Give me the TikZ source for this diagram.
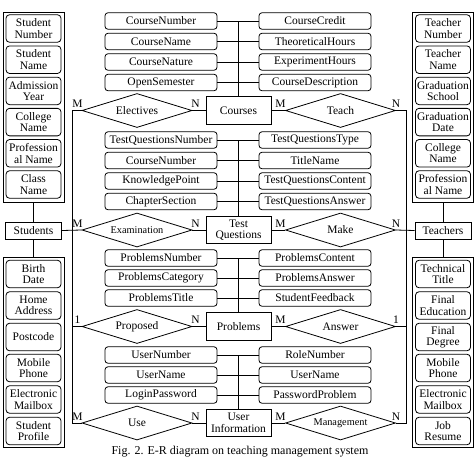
\documentclass[tikz,border=0pt]{standalone}
\usepackage{fontspec}
\setmainfont{Liberation Serif}
\usetikzlibrary{shapes.geometric}
\begin{document}
\begin{tikzpicture}[x=1pt,y=-1pt,line width=0.8pt,
  every node/.style={font=\fontsize{11.5}{11.5}\selectfont, inner sep=0pt},
  attr/.style={draw, rounded corners=3pt, minimum width=112pt, minimum height=16.5pt},
  sidebox/.style={draw, rounded corners=3.5pt, minimum width=55pt, minimum height=27.5pt, align=center},
  outerbox/.style={draw, minimum width=61pt, minimum height=190pt},
  ent/.style={draw, minimum width=65pt, minimum height=27.5pt, align=center},
  smallent/.style={draw, minimum width=56pt, minimum height=17pt},
  rel/.style={draw, shape=diamond, aspect=3.2, minimum width=110pt, minimum height=34pt},
  relsmall/.style={rel, font=\fontsize{10.3}{10.3}\selectfont},
  card/.style={font=\fontsize{11.5}{11.5}\selectfont}]
\useasboundingbox (0,0) rectangle (474,459);

% ---------- left column ----------
\node[outerbox] (lo1) at (33.5,107) {};
\node[sidebox] (s1) at (33.5,28.5) {Student\\Number};
\node[sidebox] (s2) at (33.5,59.7) {Student\\Name};
\node[sidebox] (s3) at (33.5,90.9) {Admission\\Year};
\node[sidebox] (s4) at (33.5,122.1) {College\\Name};
\node[sidebox] (s5) at (33.5,153.3) {Profession\\al Name};
\node[sidebox] (s6) at (33.5,184.5) {Class\\Name};
\node[smallent] (stu) at (33.5,230.5) {Students};
\node[outerbox] (lo2) at (33.5,352) {};
\node[sidebox] (s7) at (33.5,274) {Birth\\Date};
\node[sidebox] (s8) at (33.5,305.5) {Home\\Address};
\node[sidebox] (s9) at (33.5,337) {Postcode};
\node[sidebox] (s10) at (33.5,368) {Mobile\\Phone};
\node[sidebox] (s11) at (33.5,399.5) {Electronic\\Mailbox};
\node[sidebox] (s12) at (33.5,431) {Student\\Profile};
\draw (lo1.south) -- (stu.north);
\draw (stu.south) -- (lo2.north);

% ---------- right column ----------
\node[outerbox] (ro1) at (443,107) {};
\node[sidebox] (t1) at (443,28.5) {Teacher\\Number};
\node[sidebox] (t2) at (443,59.7) {Teacher\\Name};
\node[sidebox] (t3) at (443,90.9) {Graduation\\School};
\node[sidebox] (t4) at (443,122.1) {Graduation\\Date};
\node[sidebox] (t5) at (443,153.3) {College\\Name};
\node[sidebox] (t6) at (443,184.5) {Profession\\al Name};
\node[smallent] (tea) at (443,230.5) {Teachers};
\node[outerbox] (ro2) at (443,352) {};
\node[sidebox] (t7) at (443,274) {Technical\\Title};
\node[sidebox] (t8) at (443,305.5) {Final\\Education};
\node[sidebox] (t9) at (443,337) {Final\\Degree};
\node[sidebox] (t10) at (443,368) {Mobile\\Phone};
\node[sidebox] (t11) at (443,399.5) {Electronic\\Mailbox};
\node[sidebox] (t12) at (443,431) {Job\\Resume};
\draw (ro1.south) -- (tea.north);
\draw (tea.south) -- (ro2.north);

% ---------- entities ----------
\node[ent] (co) at (238.5,110.5) {Courses};
\node[ent] (tq) at (238.5,230) {Test\\Questions};
\node[ent] (pb) at (238.5,326.5) {Problems};
\node[ent] (ui) at (238.5,423) {User\\Information};

% ---------- attributes ----------
\node[attr] (a1) at (161,21) {CourseNumber};
\node[attr] (a2) at (161,41.5) {CourseName};
\node[attr] (a3) at (161,62) {CourseNature};
\node[attr] (a4) at (161,82.5) {OpenSemester};
\node[attr] (b1) at (315,21) {CourseCredit};
\node[attr] (b2) at (315,41.5) {TheoreticalHours};
\node[attr] (b3) at (315,62) {ExperimentHours};
\node[attr] (b4) at (315,82.5) {CourseDescription};

\node[attr] (a5) at (161,140) {TestQuestionsNumber};
\node[attr] (a6) at (161,160.5) {CourseNumber};
\node[attr] (a7) at (161,181) {KnowledgePoint};
\node[attr] (a8) at (161,201.5) {ChapterSection};
\node[attr] (b5) at (315,140) {TestQuestionsType};
\node[attr] (b6) at (315,160.5) {TitleName};
\node[attr] (b7) at (315,181) {TestQuestionsContent};
\node[attr] (b8) at (315,201.5) {TestQuestionsAnswer};

\node[attr] (a9) at (161,258) {ProblemsNumber};
\node[attr] (a10) at (161,278) {ProblemsCategory};
\node[attr] (a11) at (161,298) {ProblemsTitle};
\node[attr] (b9) at (315,258) {ProblemsContent};
\node[attr] (b10) at (315,278) {ProblemsAnswer};
\node[attr] (b11) at (315,298) {StudentFeedback};

\node[attr] (a12) at (161,355) {UserNumber};
\node[attr] (a13) at (161,375) {UserName};
\node[attr] (a14) at (161,395) {LoginPassword};
\node[attr] (b12) at (315,355) {RoleNumber};
\node[attr] (b13) at (315,375) {UserName};
\node[attr] (b14) at (315,395) {PasswordProblem};

\foreach \l/\r in {a1/b1,a2/b2,a3/b3,a4/b4,a5/b5,a6/b6,a7/b7,a8/b8,a9/b9,a10/b10,a11/b11,a12/b12,a13/b13,a14/b14}
  \draw (\l.east) -- (\r.west);
\draw (co |- a1) -- (co.north);
\draw (tq |- a5) -- (tq.north);
\draw (pb |- a9) -- (pb.north);
\draw (ui |- a12) -- (ui.north);

% ---------- relationships ----------
\node[rel] (el) at (137,110.5) {Electives};
\node[rel] (tc) at (340.5,110.5) {Teach};
\node[relsmall] (ex) at (137,230) {Examination};
\node[rel] (mk) at (340.5,230) {Make};
\node[rel] (pp) at (137,326.5) {Proposed};
\node[rel] (an) at (340.5,326.5) {Answer};
\node[rel] (us) at (137,423) {Use};
\node[relsmall] (mg) at (340.5,423) {Management};

\draw (el.east) -- (co.west);
\draw (co.east) -- (tc.west);
\draw (ex.east) -- (tq.west);
\draw (tq.east) -- (mk.west);
\draw (pp.east) -- (pb.west);
\draw (pb.east) -- (an.west);
\draw (us.east) -- (ui.west);
\draw (ui.east) -- (mg.west);

% spines
\coordinate (lsT) at (72,110.5);
\coordinate (lsB) at (72,423);
\coordinate (rsT) at (406,110.5);
\coordinate (rsB) at (406,423);
\draw (el.west) -- (lsT) -- (lsB) -- (us.west);
\draw (stu.east) -- (ex.west);
\draw (pp.west) -- (pp.west -| lsT);
\draw (tc.east) -- (rsT) -- (rsB) -- (mg.east);
\draw (tea.west) -- (mk.east);
\draw (an.east) -- (an.east -| rsT);

% cardinalities
\node[card] (c1) at (77.5,104) {M};
\node[card] (c2) at (195.5,104) {N};
\node[card] (c3) at (280.5,104) {M};
\node[card] (c4) at (396,104) {N};
\node[card] (c5) at (77.5,223.5) {M};
\node[card] (c6) at (195.5,223.5) {N};
\node[card] (c7) at (280.5,223.5) {M};
\node[card] (c8) at (396,223.5) {N};
\node[card] (c9) at (77.5,320) {1};
\node[card] (c10) at (195.5,320) {N};
\node[card] (c11) at (280.5,320) {M};
\node[card] (c12) at (396,320) {1};
\node[card] (c13) at (77.5,416.5) {M};
\node[card] (c14) at (195.5,416.5) {N};
\node[card] (c15) at (280.5,416.5) {M};
\node[card] (c16) at (396,416.5) {N};

% caption
\node[font=\fontsize{12}{12}\selectfont] (cap) at (240,451.5) {Fig. 2. E-R diagram on teaching management system};
\end{tikzpicture}
\end{document}
